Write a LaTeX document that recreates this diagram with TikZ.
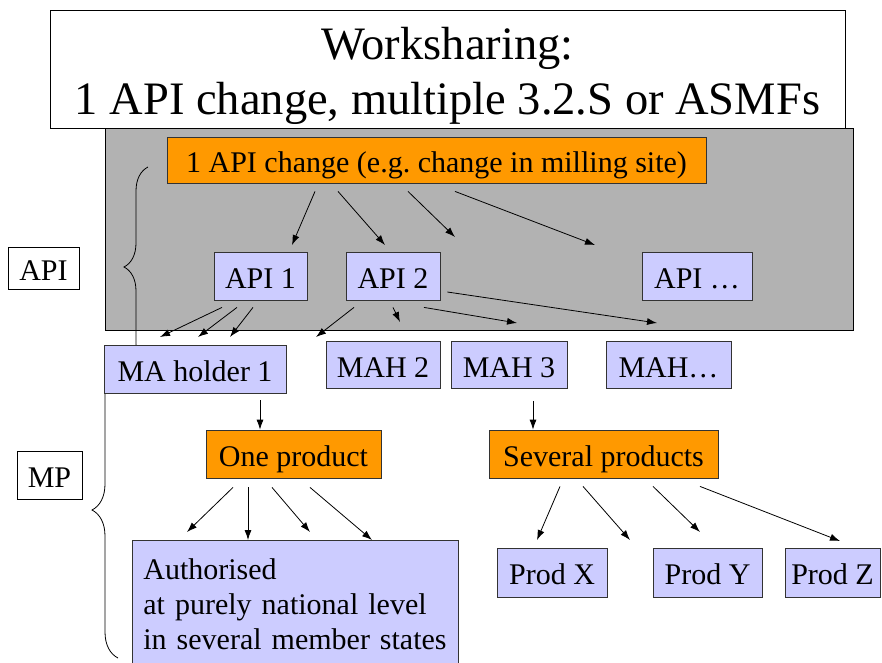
\documentclass[tikz,border=0pt]{standalone}
\usepackage{fontspec}
\setmainfont{Liberation Serif}
\usepackage{xcolor}
\usepackage{tikz}
\usetikzlibrary{arrows.meta,decorations.pathreplacing}
\definecolor{apiblue}{RGB}{204, 204, 255}
\definecolor{chgorange}{RGB}{255, 153, 0}
\definecolor{bggray}{RGB}{178, 178, 178}

\begin{document}
\begin{tikzpicture}[x=1pt, y=-1pt,
    box/.style={draw=black!80, line width=0.8pt, fill=apiblue, inner sep=0pt,
        minimum height=48, text height=24, text depth=0,
        font=\fontsize{30}{35}\selectfont},
    orangebox/.style={box, fill=chgorange},
    labelbox/.style={box, fill=white, draw=black},
    arr/.style={-{Latex[length=10pt,width=7pt]}, line width=0.8pt},
    curly/.style={decorate, decoration={brace, amplitude=#1}, line width=0.8pt}]
\useasboundingbox (0,0) rectangle (882,662);
% Gray band
\draw[fill=bggray, line width=0.8pt] (105,128) rectangle (853,330);
% Title
\node[draw, fill=white, line width=0.8pt, minimum width=795, minimum height=117,
    align=center, font=\fontsize{46.5}{55}\selectfont] (title) at (447.5,69.5)
    {\rule{0pt}{46pt}Worksharing:\\1 API change, multiple 3.2.S or ASMFs};
% Braces
\draw[curly=24] (148,367) -- (148,167);
\draw[curly=26] (118,658) -- (118,362);
\node[labelbox, minimum width=71, minimum height=42] (apilbl) at (43.5,268) {API};
\node[labelbox, minimum width=65] (mplbl) at (49.5,475) {MP};

% API level
\node[orangebox, minimum width=539, minimum height=46] (chg) at (436.5,160)
    {1 API change (e.g.\ change in milling site)};
\node[box, minimum width=93] (api1) at (260.5,276) {API 1};
\node[box, minimum width=94] (api2) at (393,276) {API 2};
\node[box, minimum width=110] (apin) at (697,276.5) {API \dots};

% Marketing authorisation holders
\node[box, minimum width=182] (mah1) at (195,369) {MA holder 1};
\node[box, minimum width=114, minimum height=47] (mah2) at (383,365) {MAH 2};
\node[box, minimum width=116, minimum height=47] (mah3) at (509,365) {MAH 3};
\node[box, minimum width=125, minimum height=47] (mahn) at (668.5,365) {MAH\dots};

% Products
\node[orangebox, minimum width=175] (one) at (293.5,454) {One product};
\node[orangebox, minimum width=229] (sev) at (603.5,454) {Several products};
\node[box, anchor=north west, minimum width=326, minimum height=128,
    text width=304, align=left, inner xsep=11, text height={}, text depth={}]
    (auth) at (132,540)
    {Authorised\\at purely national level\\in several member states};
\node[box, minimum width=110, minimum height=49] (prodx) at (552,572.5) {Prod X};
\node[box, minimum width=109, minimum height=49] (prody) at (707.5,572.5) {Prod Y};
\node[box, minimum width=95, minimum height=49] (prodz) at (832.5,572.5) {Prod Z};

% Arrow ends
\foreach \n/\x/\y in {c1/292/245, c2/385/245, c3/455/237, c4/595/245,
    p1/160/337, p2/198/337, p3/230/337,
    q1/316/337, q2/400/322, q3/517/323, q4/657/323,
    o1/187/532, o2/248/540, o3/310/532, o4/372/540,
    s1/537/540, s2/630/540, s3/700/532, s4/840/541}
    \coordinate (\n) at (\x,\y);

% Arrows
\foreach \dx/\n in {-121.5/c1, -98.5/c2, -28.5/c3, 18.5/c4}
    \draw[arr] ([shift={(\dx,8)}]chg.south) -- (\n);
\foreach \dx/\n in {-38.5/p1, -23.5/p2, -7.5/p3}
    \draw[arr] ([shift={(\dx,7)}]api1.south) -- (\n);
\foreach \dx/\n in {-39/q1, 0/q2, 31/q3}
    \draw[arr] ([shift={(\dx,7)}]api2.south) -- (\n);
\draw[arr] ([shift={(7,16)}]api2.east) -- (q4);
\draw[arr] ([shift={(65,7)}]mah1.south) -- ([xshift=-33.5]one.north);
\draw[arr] ([shift={(24,12)}]mah3.south) -- ([xshift=-70.5]sev.north);
\foreach \dx/\n in {-60.5/o1, -45.5/o2, -21.5/o3, 16.5/o4}
    \draw[arr] ([shift={(\dx,9)}]one.south) -- (\n);
\foreach \dx/\n in {-43.5/s1, -20.5/s2, 49.5/s3, 96.5/s4}
    \draw[arr] ([shift={(\dx,8)}]sev.south) -- (\n);
\end{tikzpicture}
\end{document}
